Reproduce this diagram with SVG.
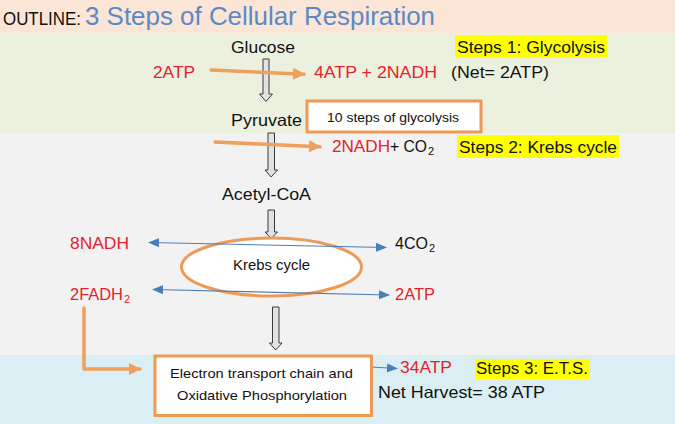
<svg xmlns="http://www.w3.org/2000/svg" width="675" height="424" viewBox="0 0 675 424">
<style>
text{font-family:"Liberation Sans",Arial,sans-serif;fill:#111}
.r{fill:#e3232b}
.m{font-size:16.5px}
.s{font-size:13px}
.sub{font-size:11px}
.hl{fill:#ffff00}
.gray{fill:#e2e2e2;stroke:#3a3a3a;stroke-width:1}
.or{fill:none;stroke:#f0a05a;stroke-width:3.5;stroke-linecap:round;stroke-linejoin:round}
.bl{fill:none;stroke:#4a7ebb;stroke-width:1.1}
.box{fill:#fff;stroke:#ee9a55;stroke-width:3}
</style>
<defs>
<marker id="oa" markerUnits="userSpaceOnUse" markerWidth="14" markerHeight="14" refX="11" refY="7" orient="auto"><path d="M0,1 L12,7 L0,13 Z" fill="#f0a05a"/></marker>
<marker id="ba" markerUnits="userSpaceOnUse" markerWidth="12" markerHeight="10" refX="10" refY="5" orient="auto-start-reverse"><path d="M0,0.5 L11,5 L0,9.5 Z" fill="#4a7ebb"/></marker>
</defs>
<g id="background">
<rect x="0" y="0" width="675" height="33" fill="#fbe5d6"/>
<rect x="0" y="33" width="675" height="100" fill="#ebf1de"/>
<rect x="0" y="133" width="675" height="222" fill="#f2f2f2"/>
<rect x="0" y="355" width="675" height="69" fill="#daeef3"/>
</g>
<g id="title">
<text x="3" y="25" font-size="18" textLength="78" lengthAdjust="spacingAndGlyphs">OUTLINE:</text>
<text x="85" y="25" font-size="26" style="fill:#5a8ac6" textLength="350" lengthAdjust="spacingAndGlyphs">3 Steps of Cellular Respiration</text>
</g>
<g id="connectors">
<polygon class="gray" points="263,59 269,59 269,94 272.5,94 266,101.5 259.5,94 263,94"/>
<polygon class="gray" points="268,133 274.5,133 274.5,170 277.5,170 271.2,177 265,170 268,170"/>
<polygon class="gray" points="268,210 274.5,210 274.5,232 277.5,232 271.2,238.5 265,232 268,232"/>
<polygon class="gray" points="272.5,307 279,307 279,343 282,343 275.7,350 269.5,343 272.5,343"/>
<line class="or" x1="211" y1="70" x2="304" y2="74.3" marker-end="url(#oa)"/>
<line class="or" x1="215" y1="142" x2="320" y2="146.8" marker-end="url(#oa)"/>
<path class="or" d="M84,308 L84,369 L140,369" marker-end="url(#oa)"/>
</g>
<g id="glucose"><text class="m" x="231" y="53" textLength="64" lengthAdjust="spacingAndGlyphs">Glucose</text></g>
<g id="step1">
<rect class="hl" x="455" y="35" width="152" height="23"/>
<text class="m" x="457" y="53" textLength="148" lengthAdjust="spacingAndGlyphs">Steps 1: Glycolysis</text>
</g>
<g id="glycolysis-io">
<text class="m r" x="153" y="78" textLength="42" lengthAdjust="spacingAndGlyphs">2ATP</text>
<text class="m r" x="314" y="78" textLength="123" lengthAdjust="spacingAndGlyphs">4ATP + 2NADH</text>
<text class="m" x="451" y="78" textLength="98" lengthAdjust="spacingAndGlyphs">(Net= 2ATP)</text>
</g>
<g id="pyruvate"><text class="m" x="231" y="126" textLength="71" lengthAdjust="spacingAndGlyphs">Pyruvate</text></g>
<g id="glycolysis-steps">
<rect class="box" x="307" y="101" width="174" height="31"/>
<text class="s" x="327" y="121.5" textLength="132" lengthAdjust="spacingAndGlyphs">10 steps of glycolysis</text>
</g>
<g id="pyruvate-out">
<text class="m r" x="332" y="152" textLength="58" lengthAdjust="spacingAndGlyphs">2NADH</text>
<text class="m" x="390" y="152" textLength="37" lengthAdjust="spacingAndGlyphs">+ CO</text>
<text class="sub" x="428" y="155">2</text>
</g>
<g id="step2">
<rect class="hl" x="457" y="135" width="162" height="23"/>
<text class="m" x="459" y="153" textLength="158" lengthAdjust="spacingAndGlyphs">Steps 2: Krebs cycle</text>
</g>
<g id="acetyl-coa"><text class="m" x="222" y="200" textLength="89" lengthAdjust="spacingAndGlyphs">Acetyl-CoA</text></g>
<g id="krebs">
<ellipse cx="271.5" cy="267" rx="90" ry="29" fill="#fff" stroke="#ee9a55" stroke-width="3"/>
<text x="271.5" y="269.5" font-size="14" text-anchor="middle" textLength="77" lengthAdjust="spacingAndGlyphs">Krebs cycle</text>
</g>
<g id="krebs-connectors">
<line class="bl" x1="149" y1="242.5" x2="386" y2="247.5" marker-start="url(#ba)" marker-end="url(#ba)"/>
<line class="bl" x1="153" y1="289.5" x2="389" y2="295" marker-start="url(#ba)" marker-end="url(#ba)"/>
<line class="bl" x1="286" y1="362" x2="397" y2="368.5" marker-end="url(#ba)"/>
</g>
<g id="krebs-out">
<text class="m r" x="70" y="249" textLength="59" lengthAdjust="spacingAndGlyphs">8NADH</text>
<text class="m" x="395" y="249" textLength="33" lengthAdjust="spacingAndGlyphs">4CO</text>
<text class="sub" x="429" y="252">2</text>
<text class="m r" x="70" y="300" textLength="53" lengthAdjust="spacingAndGlyphs">2FADH</text>
<text class="sub r" x="124" y="303">2</text>
<text class="m r" x="395" y="300" textLength="40" lengthAdjust="spacingAndGlyphs">2ATP</text>
</g>
<g id="ets">
<rect class="box" x="155" y="356" width="216.5" height="59.5"/>
<text class="s" x="170" y="377.5" textLength="183" lengthAdjust="spacingAndGlyphs">Electron transport chain and</text>
<text class="s" x="177" y="399.5" textLength="170" lengthAdjust="spacingAndGlyphs">Oxidative Phosphorylation</text>
</g>
<g id="ets-out">
<text class="m r" x="400" y="373" textLength="52" lengthAdjust="spacingAndGlyphs">34ATP</text>
<rect class="hl" x="475" y="359" width="114" height="20"/>
<text class="m" x="476" y="374" textLength="112" lengthAdjust="spacingAndGlyphs">Steps 3: E.T.S.</text>
<text class="m" x="378" y="398" textLength="167" lengthAdjust="spacingAndGlyphs">Net Harvest= 38 ATP</text>
</g>
</svg>
